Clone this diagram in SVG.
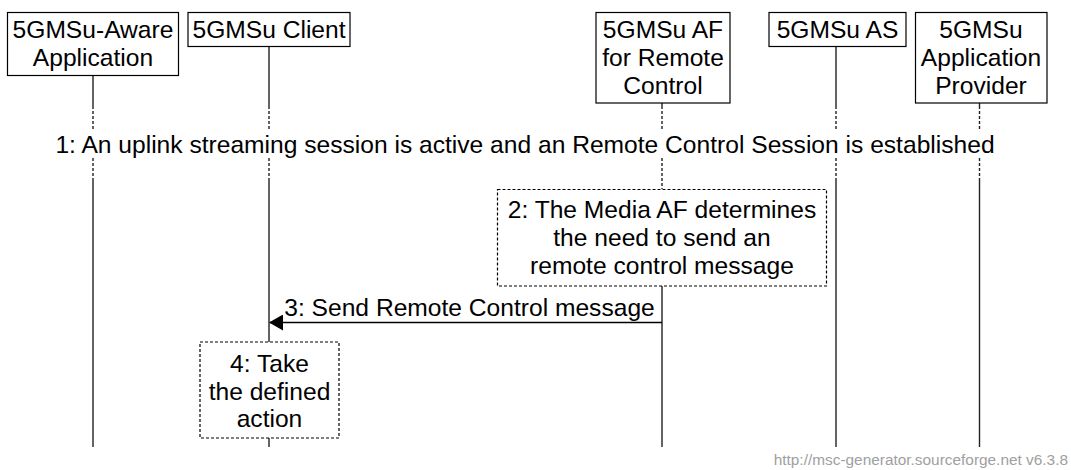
<svg xmlns="http://www.w3.org/2000/svg" width="1071" height="470" viewBox="0 0 1071 470">
<style>
.box{fill:#fff;stroke:#000;stroke-width:1.2}
.note{fill:#fff;stroke:#000;stroke-width:1.2;stroke-dasharray:3,2}
.t{font-family:"Liberation Sans",Arial,sans-serif;font-size:24.6px;fill:#000;text-anchor:middle}
.ll{stroke:#222;stroke-width:1.4;fill:none}
.lld{stroke:#222;stroke-width:1.4;fill:none;stroke-dasharray:3,2}
.foot{font-family:"Liberation Sans",Arial,sans-serif;font-size:15.4px;fill:#a0a0a0;text-anchor:end}
</style>
<defs>
<marker id="ah" markerWidth="14" markerHeight="16" refX="13" refY="8" orient="auto" markerUnits="userSpaceOnUse">
<path d="M0,0 L14,8 L0,16 Z" fill="#000"/>
</marker>
</defs>
<g id="lifelines">
<path class="ll" d="M93,76V106M93,178V447"/>
<path class="lld" d="M93,106V131M93,158V178"/>
<path class="ll" d="M269,47V106M269,178V342M269,438V447"/>
<path class="lld" d="M269,106V131M269,158V178"/>
<path class="ll" d="M662,103V106M662,286V447"/>
<path class="lld" d="M662,106V131M662,158V189"/>
<path class="ll" d="M836,47V106M836,178V447"/>
<path class="lld" d="M836,106V131M836,158V178"/>
<path class="ll" d="M979.5,103V106M979.5,178V447"/>
<path class="lld" d="M979.5,106V131M979.5,158V178"/>
</g>
<g id="e1">
<rect class="box" x="7.5" y="12.5" width="171" height="63"/>
<text class="t" x="93" y="38">5GMSu-Aware</text>
<text class="t" x="93" y="66">Application</text>
</g>
<g id="e2">
<rect class="box" x="188" y="12.5" width="162" height="34"/>
<text class="t" x="269" y="38">5GMSu Client</text>
</g>
<g id="e3">
<rect class="box" x="596" y="12.5" width="134" height="90.5"/>
<text class="t" x="663" y="38">5GMSu AF</text>
<text class="t" x="663" y="66">for Remote</text>
<text class="t" x="663" y="94">Control</text>
</g>
<g id="e4">
<rect class="box" x="769" y="12.5" width="137" height="34"/>
<text class="t" x="837.5" y="38">5GMSu AS</text>
</g>
<g id="e5">
<rect class="box" x="915.5" y="12.5" width="131.5" height="90.5"/>
<text class="t" x="981" y="38">5GMSu</text>
<text class="t" x="981" y="66">Application</text>
<text class="t" x="981" y="94">Provider</text>
</g>
<g id="divider1">
<text class="t" x="525" y="153">1: An uplink streaming session is active and an Remote Control Session is established</text>
</g>
<g id="note2">
<rect class="note" x="497.5" y="189.5" width="329" height="96.5"/>
<text class="t" x="662" y="218">2: The Media AF determines</text>
<text class="t" x="662" y="246">the need to send an</text>
<text class="t" x="662" y="274">remote control message</text>
</g>
<g id="connectors">
<line x1="662" y1="322.5" x2="270" y2="322.5" stroke="#000" stroke-width="1.4" marker-end="url(#ah)"/>
<text class="t" x="469.5" y="316">3: Send Remote Control message</text>
</g>
<g id="note4">
<rect class="note" x="200" y="342" width="139" height="96"/>
<text class="t" x="269.5" y="372">4: Take</text>
<text class="t" x="269.5" y="399.5">the defined</text>
<text class="t" x="269.5" y="427">action</text>
</g>
<text class="foot" x="1068" y="465">http://msc-generator.sourceforge.net v6.3.8</text>
</svg>
